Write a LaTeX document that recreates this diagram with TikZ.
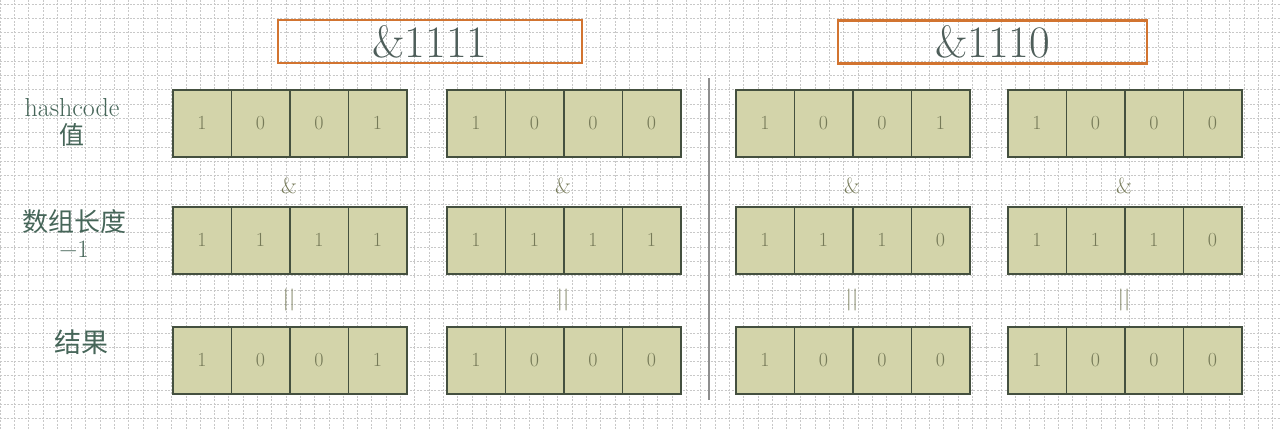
\documentclass[tikz,border=0pt]{standalone}
\usepackage{fontspec}
\newfontfamily\cjk{Noto Sans CJK SC}
\definecolor{cellfill}{HTML}{D3D4AA}
\definecolor{cellborder}{HTML}{44503F}
\definecolor{celltext}{HTML}{767A58}
\definecolor{labeltext}{HTML}{466659}
\definecolor{orangebox}{HTML}{D27430}
\definecolor{titletext}{HTML}{4E5E5A}
\definecolor{gridcol}{HTML}{C8C8C8}
\definecolor{sepcol}{HTML}{8E8E8E}
\tikzset{
  gridline/.style={draw=gridcol,line width=0.7pt,dash pattern=on 2pt off 1.5pt},
  bitcell/.style={draw=cellborder,fill=cellfill,line width=1.6pt,minimum width=58.5pt,minimum height=67pt,inner sep=0pt,anchor=north west,text=celltext,font=\fontsize{20}{20}\selectfont},
  titlebox/.style={draw=orangebox,line width=2.8pt,minimum width=304pt,minimum height=43pt,inner sep=0pt,text=titletext,font=\fontsize{45}{45}\selectfont},
  oplabel/.style={text=celltext,font=\fontsize{22}{22}\selectfont,inner sep=0pt},
  rowlabel/.style={text=labeltext,align=center,inner sep=0pt},
}
\begin{document}
\begin{tikzpicture}[x=1pt,y=-1pt]
\useasboundingbox (0,0) rectangle (1280,430);
\fill[white] (0,0) rectangle (1280,430);
% background grid
\foreach \i in {0,...,90} {
  \draw[gridline] (\i*14.3,0) -- (\i*14.3,430);
}
\foreach \j in {0,...,30} {
  \draw[gridline] (0,4+\j*14.3) -- (1280,4+\j*14.3);
}
% title boxes
\node[titlebox] (t1) at (430,41.5) {\&1111};
\node[titlebox,minimum width=309pt] (t2) at (992.5,42) {\&1110};
% separator
\coordinate (sepTop) at (709,78);
\coordinate (sepBot) at (709,400);
\draw[sepcol,line width=2.2pt] (sepTop) -- (sepBot);
% row labels
\node[rowlabel,font=\fontsize{26}{28}\selectfont] (l1a) at (72,108) {hashcode};
\node[rowlabel,font=\cjk\fontsize{25}{28}\selectfont] (l1b) at (72,135) {值};
\node[rowlabel,font=\cjk\fontsize{26}{28}\selectfont] (l2a) at (75,222) {数组长度};
\node[rowlabel,font=\fontsize{25}{28}\selectfont] (l2b) at (74,249) {\textminus1};
\node[rowlabel,font=\cjk\fontsize{27}{28}\selectfont] (l3) at (81,342) {结果};
% bit cells
\foreach \g/\gx/\ra/\rb/\rc in {1/172/{1,0,0,1}/{1,1,1,1}/{1,0,0,1},
                                 2/446/{1,0,0,0}/{1,1,1,1}/{1,0,0,0},
                                 3/735/{1,0,0,1}/{1,1,1,0}/{1,0,0,0},
                                 4/1007/{1,0,0,0}/{1,1,1,0}/{1,0,0,0}} {
  \foreach \b [count=\k from 0] in \ra {
    \node[bitcell] (g\g r1c\k) at (\gx+\k*58.5,89) {\b};
  }
  \foreach \b [count=\k from 0] in \rb {
    \node[bitcell] (g\g r2c\k) at (\gx+\k*58.5,206) {\b};
  }
  \foreach \b [count=\k from 0] in \rc {
    \node[bitcell] (g\g r3c\k) at (\gx+\k*58.5,326) {\b};
  }
  \node[oplabel] (amp\g) at (\gx+117,186) {\&};
  \node[oplabel] (eq\g) at (\gx+117,300) {||};
}
\end{tikzpicture}
\end{document}
